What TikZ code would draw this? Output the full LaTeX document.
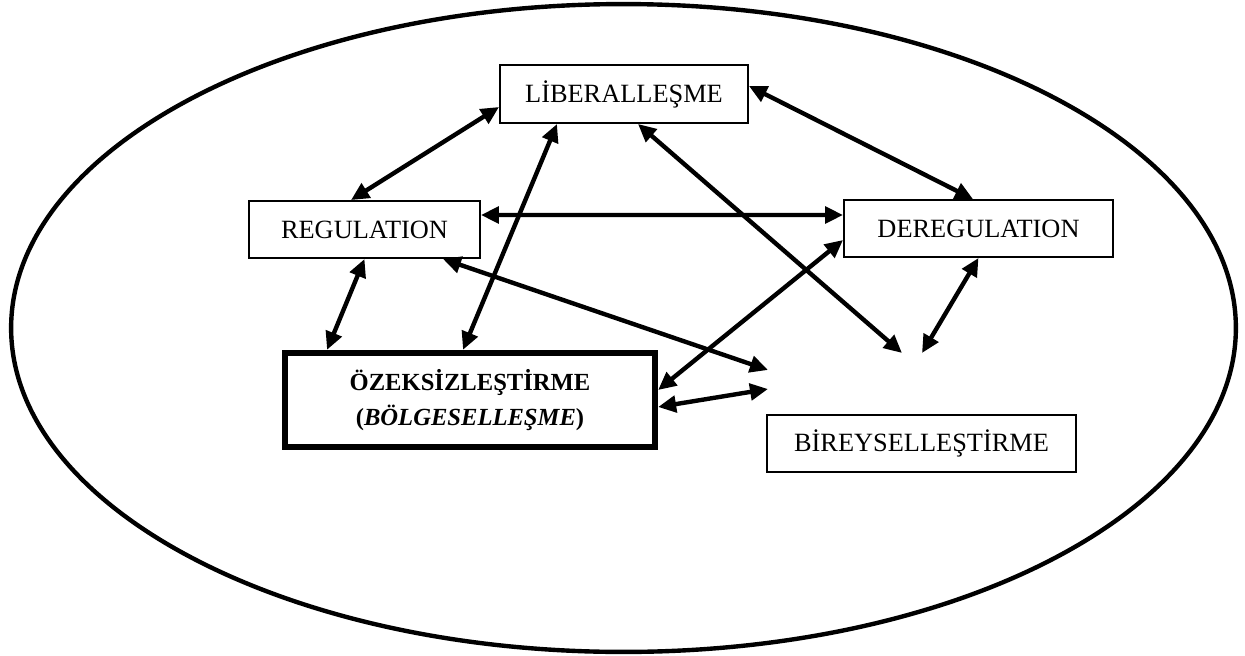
\documentclass[tikz,border=0pt]{standalone}
\usepackage{fontspec}
\setmainfont{Liberation Serif}
\usetikzlibrary{arrows.meta}

\tikzstyle{block} = [rectangle, draw, line width=1.1pt, inner sep=0pt, minimum height=1.14cm, font=\fontsize{15}{18}\selectfont]
\tikzstyle{mainblock} = [block, line width=3.6pt, align=center, font=\fontsize{14}{19.5}\selectfont\bfseries]

\begin{document}
\begin{tikzpicture}[x=0.02cm, y=-0.02cm]
        \tikzset{link/.style = {<->, >={Triangle[length=0.36cm, width=0.33cm]}, line width=2.5pt}}
        \useasboundingbox (0,0) rectangle (1245,656);
        % Outer ellipse
        \draw[line width=2.5pt] (623.5,328) ellipse [x radius=12.25cm, y radius=6.48cm];
        % Boxes
        \node (lib) at (624,94) [block, minimum width=4.96cm, minimum height=1.16cm] {LİBERALLEŞME};
        \node (reg) at (364.5,229.5) [block, minimum width=4.62cm] {REGULATION};
        \node (dereg) at (978.5,228.5) [block, minimum width=5.38cm] {DEREGULATION};
        \node (ozek) at (470,400) [mainblock, minimum width=7.4cm, minimum height=1.88cm] {ÖZEKSİZLEŞTİRME\\(\textit{BÖLGESELLEŞME})};
        \node (birey) at (921.5,443.5) [block, minimum width=6.18cm] {BİREYSELLEŞTİRME};
        % Loose arrow ends above BİREYSELLEŞTİRME
        \coordinate (p1) at (902,353);
        \coordinate (p2) at (922,353);
        \coordinate (p3) at (768,370);
        \coordinate (p4) at (768,389);
        % Arrows
        \draw[link] ([xshift=-0.27cm]reg.north) -- ([yshift=-0.26cm]lib.west);
        \draw[link] ([yshift=0.16cm]lib.east) -- ([xshift=-0.11cm]dereg.north);
        \draw[link] ([yshift=0.29cm]reg.east) -- ([yshift=0.27cm]dereg.west);
        \draw[link] (reg.south) -- ([xshift=-2.86cm]ozek.north);
        \draw[link] ([xshift=-0.14cm]ozek.north) -- ([xshift=-1.34cm]lib.south);
        \draw[link] ([xshift=0.28cm]lib.south) -- (p1);
        \draw[link] (dereg.south) -- (p2);
        \draw[link] ([yshift=-0.23cm]dereg.west) -- ([yshift=0.2cm]ozek.east);
        \draw[link] ([xshift=1.57cm]reg.south) -- (p3);
        \draw[link] ([yshift=-0.14cm]ozek.east) -- (p4);
\end{tikzpicture}
\end{document}
